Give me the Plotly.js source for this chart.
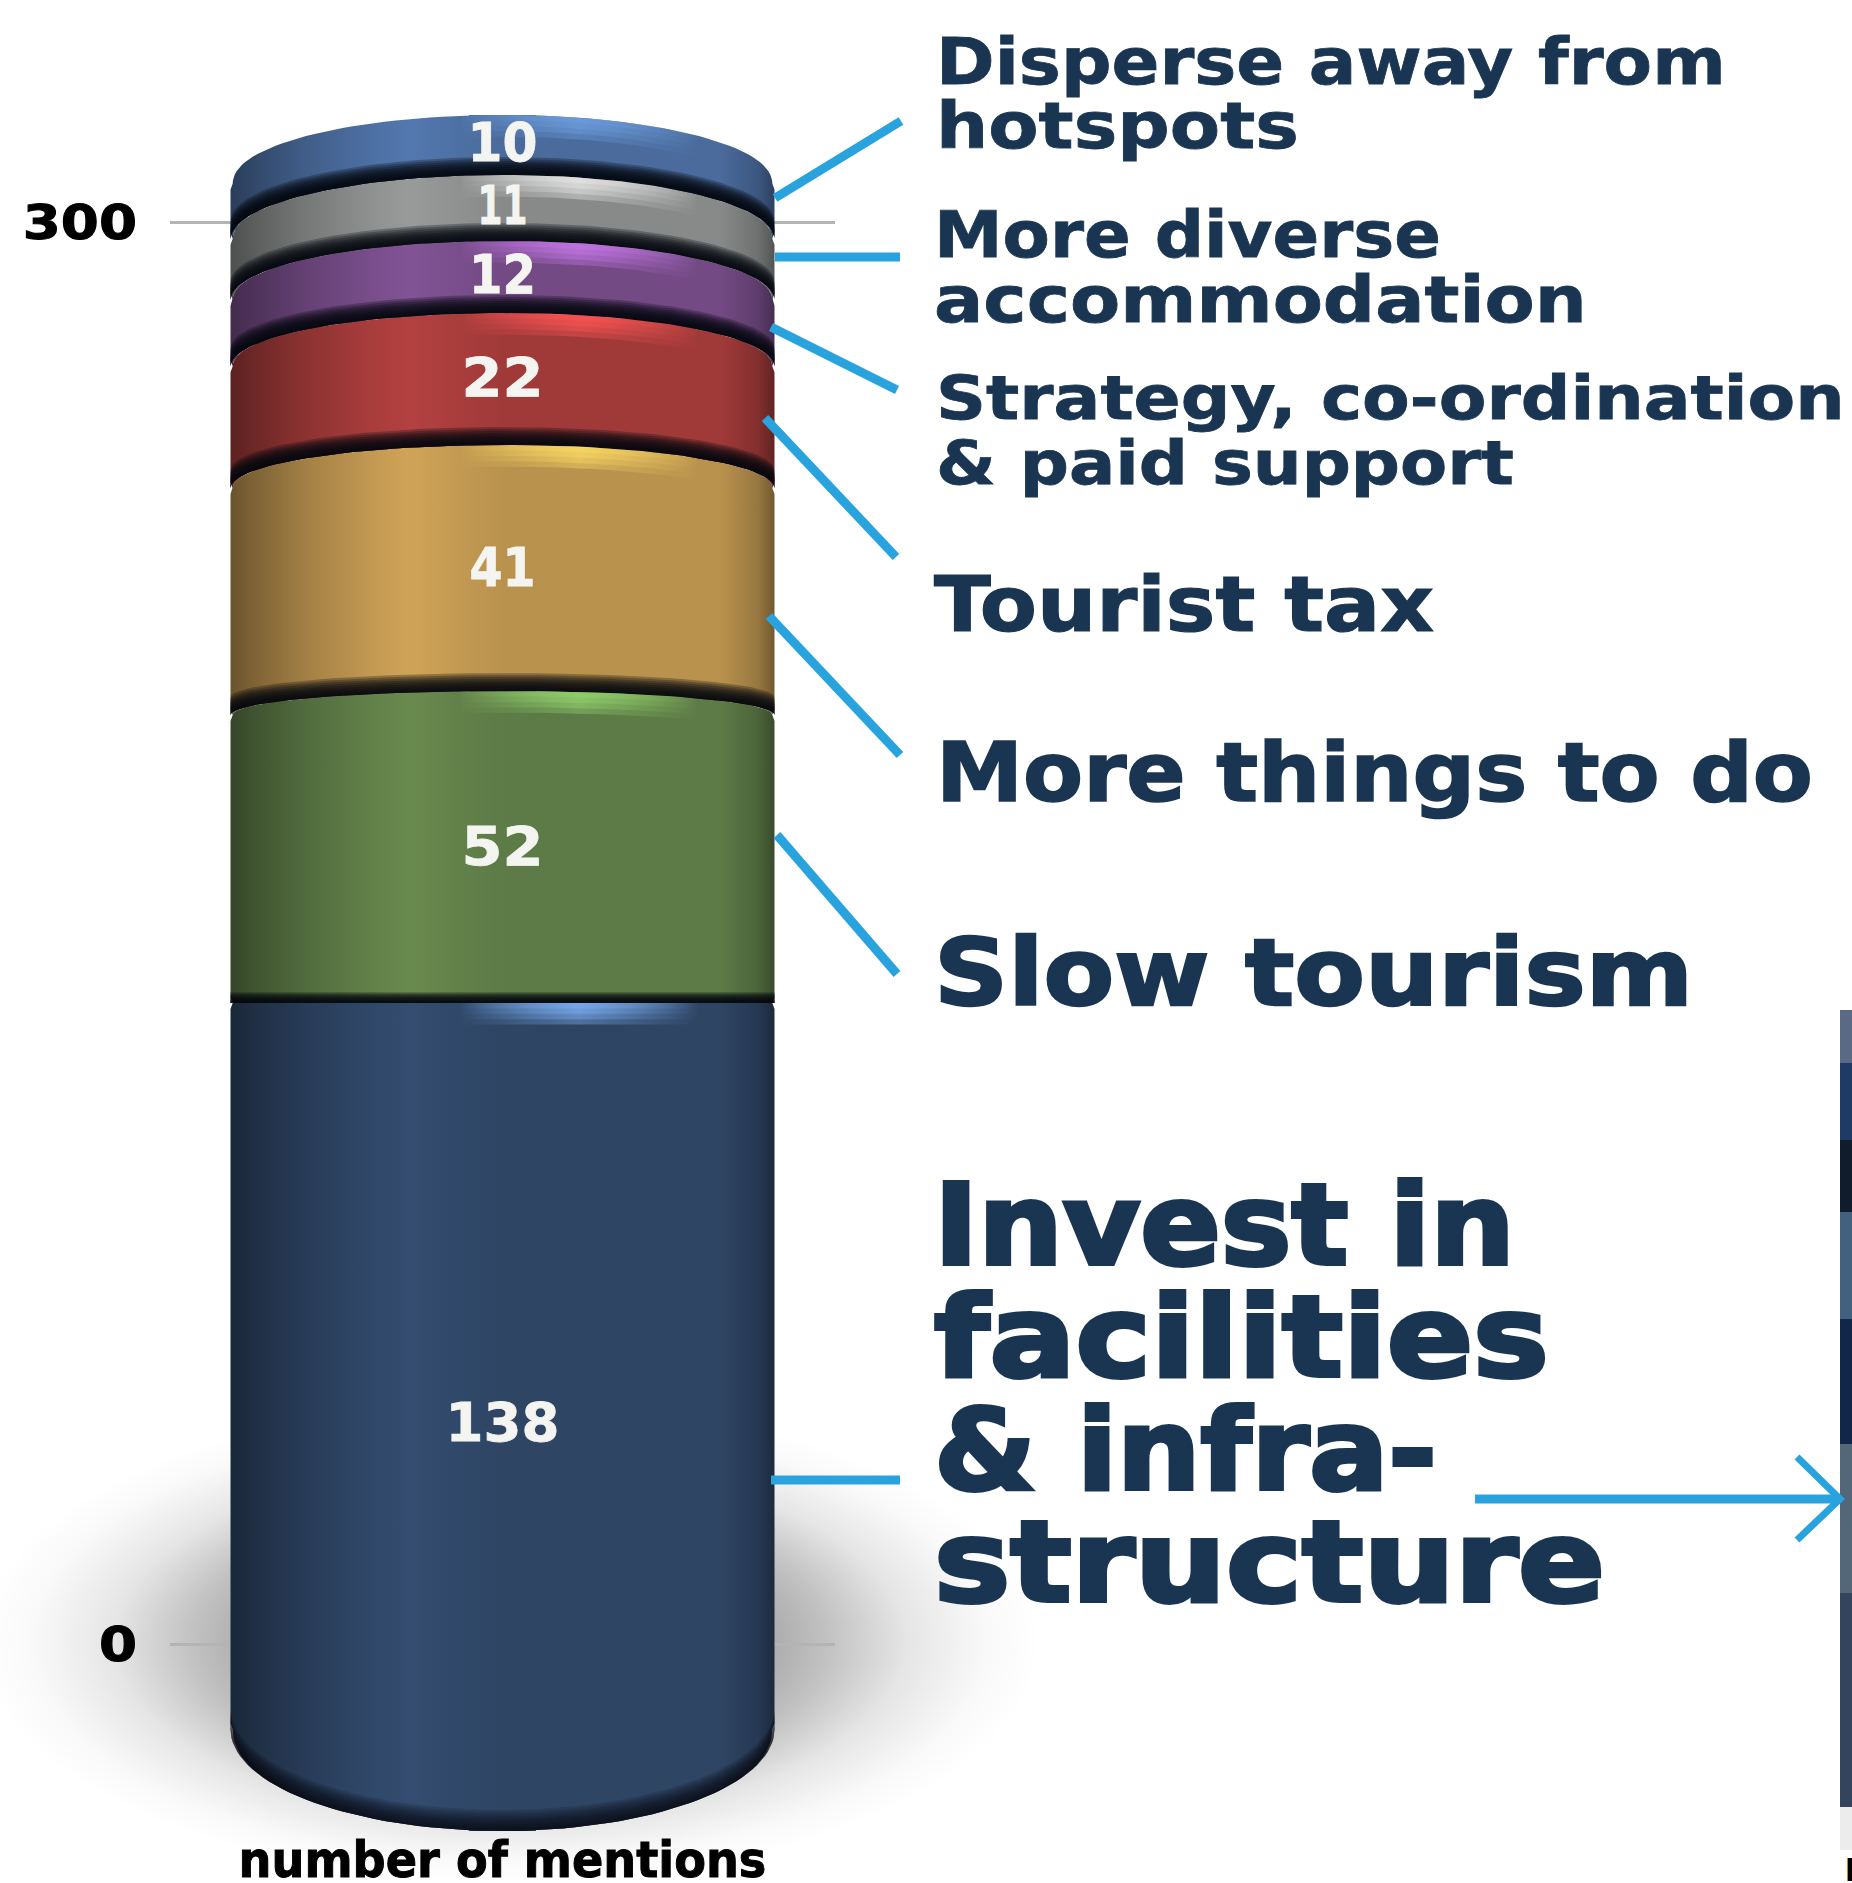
<!DOCTYPE html>
<html><head><meta charset="utf-8">
<script src="https://cdn.plot.ly/plotly-3.0.1.min.js"></script>
<style>html,body{margin:0;padding:0;background:#fff}#c{width:1852px;height:1883px}</style>
</head><body><div id="c"></div>
<script>
// ---- data (bottom to top) ----
const categories = ["Invest in facilities & infrastructure","Slow tourism","More things to do","Tourist tax","Strategy, co-ordination & paid support","More diverse accommodation","Disperse away from hotspots"];
const mentions = [138,52,41,22,12,11,10];
const axisTicks = [0,300];
const labelLines = ["Disperse away from","hotspots","More diverse","accommodation","Strategy, co-ordination","& paid support","Tourist tax","More things to do","Slow tourism","Invest in","facilities","& infra-","structure"];
const axisTitle = "number of mentions";

// ---- styles ----
const baseColors = ["#2f4666","#5f7d48","#bd9550","#a33b3a","#754c87","#8a8d8c","#4b6d9f"];
const peakColors = ["128,180,250","150,215,110","255,220,100","255,85,85","200,120,235","235,235,235","110,160,225"];
const W=1852,H=1883,BOT=48;
const INK="#1a3552",BLUE="#29a3de";
const labelSizes=[64,64,64,64,60,60,76,82,92,112,112,112,112];
const labelY=[62,126,235,300,398,463,604,772,973,1225,1337,1450,1562];
const labelX=[934,934,932,932,934,934,932,934,932,932,932,932,932];
const labelWidths=[790,363,507,653,909,578,500,877,759,581,615,503,671];
const labelStroke=[0.8,0.8,0.8,0.8,0.8,0.8,1.2,1.6,2.4,4,4,4,4];
const valueWidths=[114,82,66,82,67,50,70];
const leaders=[[775,198,901,121],[775,257,900,257],[771,327,897,390],[765,418,896,557],[769,616,900,755],[777,835,897,974],[771,1480,900,1480]];
const strip=[[1010,1063,"#5a6a85"],[1063,1140,"#203a66"],[1140,1212,"#101c2c"],[1212,1319,"#44607f"],[1319,1444,"#12264a"],[1444,1593,"#546778"],[1593,1807,"#33445c"],[1807,1850,"#ececec"]];

// ---- helpers ----
const pad=/^#(..)(..)(..)$/;
function rgb(h){const m=h.match(pad);return [1,2,3].map(i=>parseInt(m[i],16));}
function shade(h,f){const c=rgb(h).map(v=>Math.min(255,Math.round(v*f)));return `rgb(${c.join(",")})`;}
const HALF=0.818;                       // cylinder half width in x units
const pxPerUnit=6.0;                    // bar scale
const zeroPx=1831;                      // pixel of bar value 0
const axisPx=[1644,222];                // pixels of tick values 0 and 300
const plotH=H-BOT;
const y2Range=[(zeroPx-plotH)/pxPerUnit, zeroPx/pxPerUnit];
const axScale=(axisPx[0]-axisPx[1])/(axisTicks[1]-axisTicks[0]);
const y1Range=[(axisPx[0]-plotH)/axScale, axisPx[0]/axScale];
function sag(v){return v<=138 ? (v-138)*0.123 : (v-138)*0.077;}
const ts=[];for(let i=0;i<=70;i++)ts.push(-Math.cos(Math.PI*i/70));
function arc(v,dv,inset){ // boundary curve of the stack at value v, in data units
  const s=sag(v), k=inset||0;
  return {x:ts.map(t=>t*HALF*(1-k*Math.pow(Math.abs(t),14))), y:ts.map(t=>v+(dv||0)-s*(1-Math.sqrt(1-t*t)))};
}
function poly(a,b){return {x:a.x.concat(b.x.slice().reverse(),[a.x[0]]),y:a.y.concat(b.y.slice().reverse(),[a.y[0]])};}
function body(v0,v1){ // segment outline with softly rounded joints
  const a=arc(v0,0,0.008), b=arc(v1,0,0.008), n=a.x.length-1, e=1.0;
  const ey0=a.y[n]+e, ey1=b.y[n]-e;
  return {x:a.x.concat([HALF,HALF],b.x.slice().reverse(),[-HALF,-HALF],[a.x[0]]),
          y:a.y.concat([ey0,ey1],b.y.slice().reverse(),[ey1,ey0],[a.y[0]])};
}
const common={xaxis:"x",yaxis:"y2",type:"scatter",mode:"lines",line:{width:0},fill:"toself",hoverinfo:"skip",showlegend:false};

const cum=[0];mentions.forEach(m=>cum.push(cum[cum.length-1]+m));
const traces=[];
traces.push({type:"scatter",mode:"markers",x:[0,0],y:axisTicks,xaxis:"x",yaxis:"y",marker:{opacity:0,size:1},hoverinfo:"skip",showlegend:false});
// stacked bars: the data itself
categories.forEach((c,i)=>traces.push({type:"bar",x:[0],y:[mentions[i]],name:c,width:0.2,xaxis:"x",yaxis:"y2",marker:{color:baseColors[i]},hovertemplate:c+": %{y}<extra></extra>",showlegend:false}));
// cylinder bodies
mentions.forEach((m,i)=>{
  const p=body(cum[i],cum[i+1]);
  const c=baseColors[i];
  traces.push(Object.assign({},common,p,{fillgradient:{type:"horizontal",colorscale:[[0,shade(c,0.56)],[0.04,shade(c,0.66)],[0.14,shade(c,0.86)],[0.26,shade(c,1.03)],[0.33,shade(c,1.1)],[0.42,shade(c,1.03)],[0.5,shade(c,0.98)],[0.9,shade(c,0.98)],[0.97,shade(c,0.8)],[1,shade(c,0.6)]]}}));
});
// contact shadows under each segment: many thin low-alpha layers for a soft fade
cum.slice(0,-1).forEach((v,i)=>{
  const n=i===0?10:9, reach=i===0?3.5:(i===1?1.8:3.0), al=i===0?0.14:0.28;
  for(let k=1;k<=n;k++){
    const p=poly(arc(v),arc(v,reach*k/n));
    traces.push(Object.assign({},common,p,{fillcolor:`rgba(5,8,14,${al})`}));
  }
});
// rim highlights
mentions.forEach((m,i)=>{
  const c=peakColors[i];
  for(let k=1;k<=4;k++){
    const p=poly(arc(cum[i+1]),arc(cum[i+1],-0.9*k));
    traces.push(Object.assign({},common,p,{fillgradient:{type:"horizontal",colorscale:[[0,`rgba(${c},0)`],[0.42,`rgba(${c},0)`],[0.64,`rgba(${c},0.4)`],[0.86,`rgba(${c},0)`],[1,`rgba(${c},0)`]]}}));
  }
});
// value labels
traces.push({type:"scatter",mode:"text",xaxis:"x",yaxis:"y2",x:mentions.map(()=>0),y:mentions.map((m,i)=>cum[i]+m*0.49-0.3),text:mentions.map(String),textposition:"middle center",textfont:{family:"DejaVu Sans",size:54,color:"#f4f4f0",weight:700},hoverinfo:"skip",showlegend:false});

const shapes=[];
leaders.forEach(l=>shapes.push({type:"line",xref:"paper",yref:"paper",x0:l[0]/W,y0:1-l[1]/H,x1:l[2]/W,y1:1-l[3]/H,line:{color:BLUE,width:9}}));
shapes.push({type:"line",xref:"paper",yref:"paper",x0:1475/W,x1:1838/W,y0:1-1499/H,y1:1-1499/H,line:{color:BLUE,width:9}});
shapes.push({type:"path",xref:"paper",yref:"paper",path:`M ${1797/W} ${1-1457/H} L ${1840/W} ${1-1499/H} L ${1797/W} ${1-1540/H}`,line:{color:BLUE,width:7}});
strip.forEach(s=>shapes.push({type:"rect",xref:"paper",yref:"paper",x0:1840/W,x1:1,y0:1-s[0]/H,y1:1-s[1]/H,fillcolor:s[2],line:{width:0},layer:"below"}));

const annotations=labelLines.map((t,i)=>({text:t,xref:"paper",yref:"paper",x:labelX[i]/W,y:1-labelY[i]/H,xanchor:"left",yanchor:"middle",showarrow:false,align:"left",font:{family:"DejaVu Sans",size:labelSizes[i],color:INK,weight:700}}));
annotations.push({text:"n",xref:"paper",yref:"paper",x:1842/W,y:1-1866/H,xanchor:"left",yanchor:"middle",showarrow:false,font:{family:"DejaVu Sans",size:42,color:"#000",weight:700}});

const svg=`<svg xmlns="http://www.w3.org/2000/svg" width="1000" height="500"><defs><radialGradient id="g"><stop offset="0" stop-color="#000" stop-opacity=".5"/><stop offset=".45" stop-color="#000" stop-opacity=".36"/><stop offset=".6" stop-color="#000" stop-opacity=".24"/><stop offset=".75" stop-color="#000" stop-opacity=".1"/><stop offset=".9" stop-color="#000" stop-opacity=".025"/><stop offset="1" stop-color="#000" stop-opacity="0"/></radialGradient></defs><rect width="1000" height="500" fill="url(#g)"/></svg>`;

const layout={
  width:W,height:H,margin:{l:0,r:0,t:0,b:0},paper_bgcolor:"#fff",plot_bgcolor:"rgba(0,0,0,0)",showlegend:false,barmode:"stack",
  xaxis:{domain:[170/W,835/W],range:[-1,1],showticklabels:false,showgrid:false,zeroline:false,ticks:"",title:{text:axisTitle,standoff:12,font:{family:"DejaVu Sans",size:50,color:"#000",weight:700}}},
  yaxis:{domain:[BOT/H,1],range:y1Range,tickvals:axisTicks,ticktext:axisTicks.map(String),showgrid:true,gridcolor:"#b4b4b4",gridwidth:3,zeroline:false,showline:false,ticks:"",ticklabelstandoff:32,tickfont:{family:"DejaVu Sans",size:48,color:"#000",weight:700}},
  yaxis2:{overlaying:"y",range:y2Range,visible:false},
  shapes,annotations,
  images:[{source:"data:image/svg+xml;charset=utf-8,"+encodeURIComponent(svg),xref:"paper",yref:"paper",x:-20/W,y:1-1400/H,sizex:1060/W,sizey:483/H,sizing:"stretch",xanchor:"left",yanchor:"top",layer:"below"}]
};
// horizontal stretch of the real text to approximate the reference's wide display face
function stretch(el,sx,side,stroke,color,dy){
  const bb=el.getBBox();
  const rx=side==="left"?bb.x:side==="right"?bb.x+bb.width:bb.x+bb.width/2;
  const old=el.getAttribute("transform")||"";
  el.setAttribute("transform",`${old} translate(${rx},${dy||0}) scale(${sx},1) translate(${-rx},0)`);
  if(stroke){el.style.stroke=color;el.style.strokeWidth=stroke+"px";}
}
Plotly.newPlot("c",traces,layout,{displayModeBar:false,staticPlot:true}).then(gd=>{
  const ann=gd.querySelectorAll(".annotation-text");
  ann.forEach((el,i)=>{ if(i<labelWidths.length) stretch(el,labelWidths[i]/el.getBBox().width,"left",labelStroke[i],INK); });
  gd.querySelectorAll(".textpoint text").forEach((el,i)=>stretch(el,valueWidths[i]/el.getBBox().width,"center",0.8,"#f4f4f0"));
  gd.querySelectorAll(".ytick text").forEach(el=>stretch(el,1.14,"right",1,"#000"));
  const xt=gd.querySelector(".xtitle"); if(xt) stretch(xt,528/xt.getBBox().width,"center",1,"#000",6);
});
</script></body></html>
